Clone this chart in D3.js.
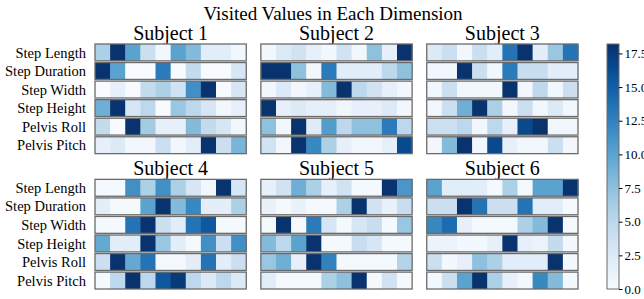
<!DOCTYPE html>
<html>
<head>
<meta charset="utf-8">
<script src="https://cdn.jsdelivr.net/npm/d3@7"></script>
<style>
  body { margin: 0; background: #fff; }
  text { font-family: "Liberation Serif", "DejaVu Serif", serif; fill: #000; }
</style>
</head>
<body>
<div id="chart"></div>
<script>
const width = 644;
const height = 299;

const dimensions = ['Step Length', 'Step Duration', 'Step Width', 'Step Height', 'Pelvis Roll', 'Pelvis Pitch'];
const subjects = ['Subject 1', 'Subject 2', 'Subject 3', 'Subject 4', 'Subject 5', 'Subject 6'];
const colorTicks = [0, 2.5, 5, 7.5, 10, 12.5, 15, 17.5];
const vmax = 18.2;

// visit counts per subject: 6 dimensions x 10 bins
const subject1 = [
  [6, 18, 10, 4, 0.5, 10, 8, 2, 2, 0.5],
  [18, 10, 0, 0, 13, 0, 4.5, 0, 0, 3],
  [0, 1.5, 0, 4.5, 6, 3.5, 11.5, 18, 0, 3],
  [9, 18, 3, 5, 0, 7, 5, 3, 0.5, 1.5],
  [4.5, 0, 18, 6.5, 1.5, 1.5, 8, 4.5, 3, 0.5],
  [1.5, 2.5, 0.5, 0.5, 4, 0.5, 2, 18, 4, 8.5]
];
const subject2 = [
  [0.5, 2.5, 3.5, 1.5, 0.5, 3.5, 0.5, 7.5, 1.5, 18],
  [18, 18, 7.5, 0.5, 13, 2, 2, 2, 5, 7.5],
  [0.5, 2.5, 0.5, 1.5, 8, 18, 5, 3.5, 1.5, 0.5],
  [18, 1.5, 2.5, 1.7, 1.7, 0.7, 1.5, 1.5, 2.5, 0.5],
  [7.5, 0.5, 18, 2.2, 10.5, 5, 7.5, 7.5, 13, 5],
  [3.5, 0.5, 18, 12, 6, 1.5, 0.5, 0.5, 1.5, 16.5]
];
const subject3 = [
  [2.5, 4, 0.5, 4, 2, 13.5, 18, 1.8, 7, 13.5],
  [0.5, 0.5, 18, 4, 0.5, 13, 4.2, 4.2, 1.8, 1.8],
  [0.5, 4, 0.5, 0.5, 0.5, 18, 0.5, 5, 0.5, 4],
  [0.5, 4, 9, 18, 6, 0.5, 4, 0.5, 2.5, 0.5],
  [3.8, 3.8, 5, 0.5, 5, 1.5, 16.5, 18, 0.5, 0.5],
  [0.5, 8, 18, 0.5, 16.5, 1.5, 0.5, 0.5, 4, 0.5]
];
const subject4 = [
  [0.3, 0.3, 11.5, 6, 11.5, 6, 3, 0.5, 18, 3],
  [1.8, 0.3, 0.3, 10, 18, 8, 12, 1.8, 1.8, 6],
  [0.3, 0.3, 13.5, 18, 4, 2, 13.5, 15.5, 0.3, 0.3],
  [9.5, 2, 2, 18, 7, 1.8, 0.3, 11.5, 4, 11.5],
  [4, 18, 9.5, 13.5, 0.3, 0.3, 1.8, 13.5, 2, 4],
  [0.3, 5, 18, 5, 15.5, 17.5, 5, 2.5, 5, 2.5]
];
const subject5 = [
  [1.5, 3.5, 9, 6, 1.5, 3.5, 0.3, 0.3, 18, 11],
  [1.3, 0.3, 1.3, 0.3, 0.3, 6, 18, 3.5, 1.3, 4.2],
  [0.3, 18, 0.3, 13, 3, 0.3, 3, 4.2, 0.3, 7],
  [8, 5, 10, 18, 0.3, 0.3, 4.2, 3, 0.3, 0.3],
  [7, 9, 1.5, 18, 12.5, 0.3, 0.3, 0.3, 0.3, 5.5],
  [2, 0.3, 0.3, 0.3, 6, 7.5, 18, 0.3, 3.5, 0.3]
];
const subject6 = [
  [10, 2, 2, 2, 0.3, 6, 0.3, 10, 10, 18],
  [4, 4, 18, 13.5, 4, 4, 13.5, 2, 2, 0.3],
  [12, 14, 1.5, 0.3, 0.3, 0.3, 6, 8, 18, 0.3],
  [1, 1, 0.4, 0.4, 1.5, 18, 1.5, 1, 4.5, 0.4],
  [4, 0.4, 1.5, 7.5, 6, 2, 2, 2, 18, 0.4],
  [0.4, 4, 10, 18, 6, 1.5, 0.4, 12, 8, 0.4]
];
const subjectValues = [subject1, subject2, subject3, subject4, subject5, subject6];

const svg = d3.select('#chart').append('svg')
  .attr('width', width)
  .attr('height', height);

const color = d3.scaleSequential(d3.interpolateBlues).domain([0, vmax]);

// panel placement (3 columns x 2 rows)
const colX = d3.scaleBand().domain([0, 1, 2]).range([95, 578]).paddingInner(0.088);
const rowY = d3.scaleBand().domain([0, 1]).range([44, 289]).paddingInner(0.19);

svg.append('text')
  .attr('x', 333)
  .attr('y', 20)
  .attr('text-anchor', 'middle')
  .style('font-size', '19px')
  .text('Visited Values in Each Dimension');

subjects.forEach((name, si) => {
  const px = colX(si % 3);
  const py = rowY(Math.floor(si / 3));
  const g = svg.append('g').attr('transform', `translate(${px},${py})`);

  const x = d3.scaleBand().domain(d3.range(10)).range([0, colX.bandwidth()]);
  const y = d3.scaleBand().domain(dimensions).range([0, rowY.bandwidth()]).paddingInner(0.09);

  g.append('text')
    .attr('x', colX.bandwidth() / 2)
    .attr('y', -4)
    .attr('text-anchor', 'middle')
    .style('font-size', '20px')
    .text(name);

  dimensions.forEach((dim, di) => {
    const row = g.append('g').attr('transform', `translate(0,${y(dim)})`);
    row.selectAll('rect.cell')
      .data(subjectValues[si][di])
      .enter()
      .append('rect')
      .attr('class', 'cell')
      .attr('x', (d, i) => x(i))
      .attr('y', 0)
      .attr('width', x.bandwidth() + 0.5)
      .attr('height', y.bandwidth())
      .attr('fill', d => color(d));

    row.append('rect')
      .attr('x', 0)
      .attr('y', 0)
      .attr('width', colX.bandwidth())
      .attr('height', y.bandwidth())
      .attr('fill', 'none')
      .attr('stroke', '#6b6b6b')
      .attr('stroke-width', 1.3);

    if (si % 3 === 0) {
      g.append('text')
        .attr('x', -9)
        .attr('y', y(dim) + y.bandwidth() / 2)
        .attr('dy', '0.35em')
        .attr('text-anchor', 'end')
        .style('font-size', '14.5px')
        .text(dim);
    }
  });
});

// colorbar
const cbX = 607, cbW = 12, cbTop = 44, cbBottom = 289;
const cbScale = d3.scaleLinear().domain([0, vmax]).range([cbBottom, cbTop]);

const grad = svg.append('defs').append('linearGradient')
  .attr('id', 'cbgrad')
  .attr('x1', 0).attr('y1', 1).attr('x2', 0).attr('y2', 0);
d3.range(0, 1.0001, 0.05).forEach(t => {
  grad.append('stop').attr('offset', t).attr('stop-color', d3.interpolateBlues(t));
});

svg.append('rect')
  .attr('x', cbX)
  .attr('y', cbTop)
  .attr('width', cbW)
  .attr('height', cbBottom - cbTop)
  .attr('fill', 'url(#cbgrad)')
  .attr('stroke', '#6b6b6b')
  .attr('stroke-width', 1);

const cbAxis = svg.append('g')
  .attr('transform', `translate(${cbX + cbW},0)`)
  .call(d3.axisRight(cbScale).tickValues(colorTicks).tickFormat(d3.format('.1f')).tickSize(3.5).tickPadding(2));
cbAxis.select('.domain').remove();
cbAxis.selectAll('text').style('font-size', '13px').style('font-family', '"Liberation Serif", serif');
</script>
</body>
</html>
